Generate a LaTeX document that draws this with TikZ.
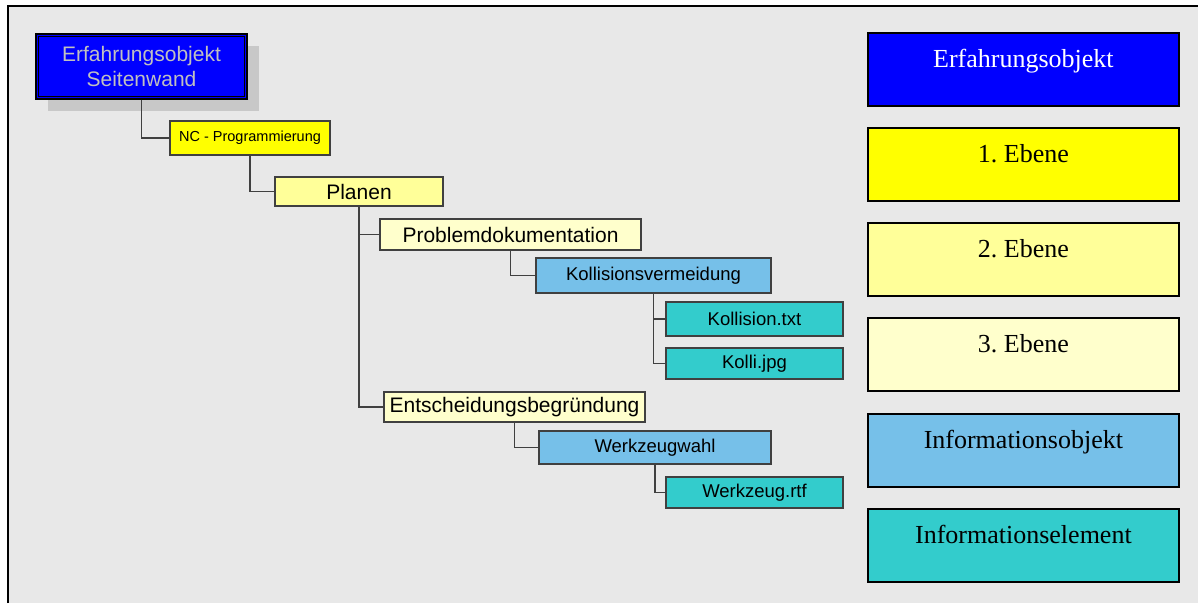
\documentclass[tikz,border=0pt]{standalone}
\usepackage{fontspec}
\setmainfont{Liberation Serif}
\setsansfont{Liberation Sans}
\usetikzlibrary{shadows}
\frenchspacing

\definecolor{panel}{HTML}{E8E8E8}
\definecolor{shadowgray}{HTML}{C8C8C8}
\definecolor{boxline}{HTML}{404040}
\definecolor{eoblue}{HTML}{0000FF}
\definecolor{silvertext}{HTML}{C0C0C0}
\definecolor{levelone}{HTML}{FFFF00}
\definecolor{leveltwo}{HTML}{FFFF99}
\definecolor{levelthree}{HTML}{FFFFCC}
\definecolor{infoobj}{HTML}{76C0E9}
\definecolor{infoel}{HTML}{33CCCC}

\tikzset{
  treebox/.style={draw=boxline, line width=1.4pt, inner sep=0pt, text=black},
  bigtxt/.style={font=\sffamily\fontsize{21}{25}\selectfont},
  midtxt/.style={font=\sffamily\fontsize{18.5}{22}\selectfont},
  smalltxt/.style={font=\sffamily\fontsize{14.5}{17}\selectfont},
  conn/.style={draw=boxline, line width=1.8pt},
  legendbox/.style={draw=black, line width=1.8pt, anchor=north west,
    minimum width=311pt, inner xsep=0pt, inner ysep=0pt,
    text height=35pt, text depth=38pt, text=black,
    font=\rmfamily\fontsize{26}{30}\selectfont},
}

\begin{document}
\begin{tikzpicture}[x=1pt,y=-1pt]
\useasboundingbox (0,0) rectangle (1198,603);
% sheet and panel frame
\fill[white] (0,0) rectangle (1198,603);
\fill[panel] (8,6) rectangle (1198,603);
\draw[line width=2pt, black] (8,603) -- (8,6) -- (1198,6);

% tree
\node[draw=black, line width=1.3pt, fill=eoblue, inner sep=0pt,
      minimum width=211pt, minimum height=65pt, align=center,
      text=silvertext, bigtxt,
      drop shadow={shadow xshift=12pt, shadow yshift=-12pt, fill=shadowgray, opacity=1}]
      (root) at (141.5,66.5) {Erfahrungsobjekt\\Seitenwand};
\draw[black, line width=1.1pt] ([shift={(3.3pt,-3.3pt)}]root.north west)
      rectangle ([shift={(-3.3pt,3.3pt)}]root.south east);

\node[treebox, fill=levelone, smalltxt, minimum width=160pt, minimum height=34pt]
      (nc) at (250,138) {NC - Programmierung};
\node[treebox, fill=leveltwo, bigtxt, minimum width=168pt, minimum height=29pt]
      (planen) at (359,191.5) {Planen};
\node[treebox, fill=levelthree, bigtxt, minimum width=261pt, minimum height=31pt]
      (problem) at (510.5,234.5) {Problemdokumentation};
\node[treebox, fill=infoobj, midtxt, minimum width=235pt, minimum height=35pt]
      (kollv) at (653.5,275.5) {Kollisionsvermeidung};
\node[treebox, fill=infoel, midtxt, minimum width=177pt, minimum height=34pt]
      (ktxt) at (754.5,319) {Kollision.txt};
\node[treebox, fill=infoel, midtxt, minimum width=177pt, minimum height=31pt]
      (kjpg) at (754.5,363.5) {Kolli.jpg};
\node[treebox, fill=levelthree, bigtxt, minimum width=261pt, minimum height=30pt]
      (entsch) at (514.5,407) {Entscheidungsbegründung};
\node[treebox, fill=infoobj, midtxt, minimum width=232pt, minimum height=33pt]
      (wzwahl) at (655,447.5) {Werkzeugwahl};
\node[treebox, fill=infoel, midtxt, minimum width=177pt, minimum height=31pt]
      (wzrtf) at (754.5,492.5) {Werkzeug.rtf};

% connectors
\draw[conn] (root.south) |- (nc.west);
\draw[conn] (nc.south) |- (planen.west);
\draw[conn] (planen.south) |- (problem.west);
\draw[conn] (planen.south) |- (entsch.west);
\draw[conn] (problem.south) |- (kollv.west);
\draw[conn] (kollv.south) |- (ktxt.west);
\draw[conn] (kollv.south) |- (kjpg.west);
\draw[conn] (entsch.south) |- (wzwahl.west);
\draw[conn] (wzwahl.south) |- (wzrtf.west);

% legend
\node[legendbox, fill=eoblue, text=white] (lg1) at (867,32) {Erfahrungsobjekt};
\node[legendbox, fill=levelone] (lg2) at (867,127) {1. Ebene};
\node[legendbox, fill=leveltwo] (lg3) at (867,222) {2. Ebene};
\node[legendbox, fill=levelthree] (lg4) at (867,317) {3. Ebene};
\node[legendbox, fill=infoobj] (lg5) at (867,413) {Informationsobjekt};
\node[legendbox, fill=infoel] (lg6) at (867,508) {Informationselement};
\end{tikzpicture}
\end{document}
